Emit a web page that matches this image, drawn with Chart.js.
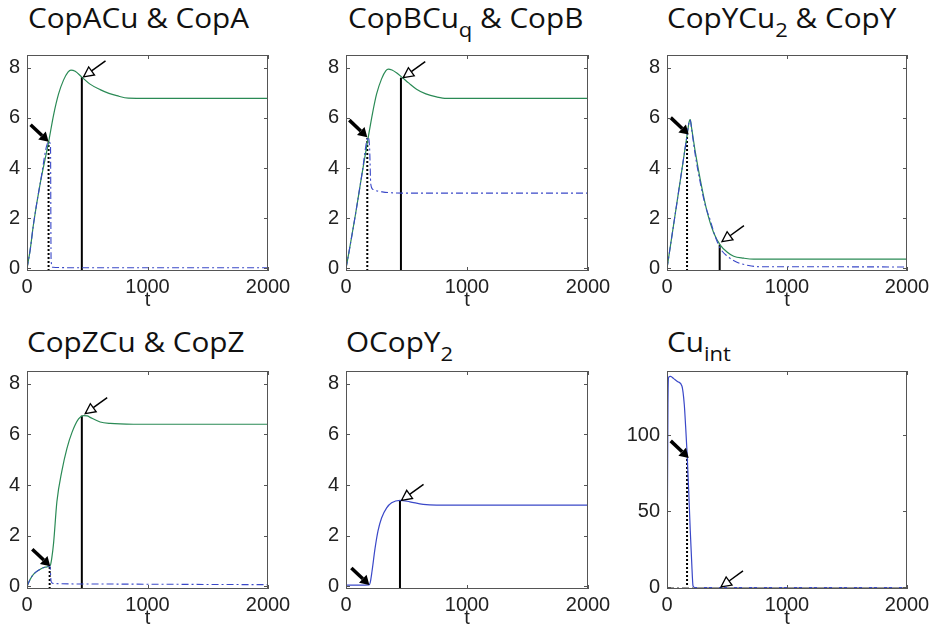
<!DOCTYPE html>
<html>
<head>
<meta charset="utf-8">
<script src="https://cdn.jsdelivr.net/npm/chart.js@4.4.1/dist/chart.umd.min.js"></script>
<style>
  html, body { margin: 0; padding: 0; background: #fff; }
  body { width: 933px; height: 632px; position: relative; overflow: hidden; }
  canvas { position: absolute; }
  .ttl {
    position: absolute; font-family: "Open Sans", sans-serif; font-size: 27px;
    line-height: 30px; color: #111; white-space: nowrap;
    transform: scaleX(1.1); transform-origin: left top;
  }
  .ttl .sb { font-size: 20px; position: relative; top: 9px; }
</style>
</head>
<body>
<div class="ttl" style="left:28px;top:3px">CopACu &amp; CopA</div>
<div class="ttl" style="left:348px;top:3px">CopBCu<span class="sb">q</span> &amp; CopB</div>
<div class="ttl" style="left:667px;top:3px">CopYCu<span class="sb">2</span> &amp; CopY</div>
<div class="ttl" style="left:27px;top:327px">CopZCu &amp; CopZ</div>
<div class="ttl" style="left:346px;top:327px">OCopY<span class="sb">2</span></div>
<div class="ttl" style="left:667px;top:327px">Cu<span class="sb">int</span></div>
<script>
// tick labels
const xTicks = [0, 1000, 2000];
const concTicks = [0, 2, 4, 6, 8];
const cuTicks = [0, 50, 100];

// CopACu & CopA
const copA_t1 = [0, 25, 55, 110, 180, 220, 262, 303, 340, 365, 400, 455, 520, 607, 680, 745, 841, 1000, 1500, 2000];
const copA_green = [0, 0.7, 1.8, 3.4, 5.05, 6.1, 6.95, 7.5, 7.82, 7.9, 7.85, 7.62, 7.35, 7.12, 6.97, 6.88, 6.78, 6.77, 6.77, 6.77];
const copA_t2 = [0, 25, 55, 110, 180, 195, 200, 215, 400, 2000];
const copA_blue = [0, 0.7, 1.8, 3.4, 5.05, 4.9, 0.3, 0.05, 0.03, 0.03];

// CopBCu_q & CopB
const copB_t1 = [0, 30, 80, 130, 184, 220, 253, 294, 330, 350, 380, 420, 459, 520, 583, 660, 748, 831, 1000, 2000];
const copB_green = [0, 0.8, 2.2, 3.7, 5.23, 6.2, 6.95, 7.55, 7.88, 7.94, 7.9, 7.78, 7.63, 7.38, 7.14, 6.95, 6.83, 6.77, 6.77, 6.77];
const copB_t2 = [0, 30, 80, 130, 184, 195, 205, 226, 300, 500, 2000];
const copB_blue = [0, 0.8, 2.2, 3.7, 5.23, 4.8, 3.35, 3.14, 3.05, 3.0, 3.0];

// CopYCu2 & CopY
const copY_t1 = [0, 60, 120, 167, 185, 194, 205, 236, 278, 333, 389, 444, 500, 556, 640, 722, 1000, 2000];
const copY_green = [0, 1.9, 3.8, 5.3, 5.85, 5.93, 5.6, 4.63, 3.52, 2.28, 1.42, 0.93, 0.66, 0.49, 0.41, 0.37, 0.37, 0.37];
const copY_t2 = [0, 60, 120, 167, 185, 194, 205, 236, 278, 320, 361, 400, 444, 500, 583, 680, 778, 1000, 2000];
const copY_blue = [0, 1.9, 3.8, 5.3, 5.85, 5.9, 5.55, 4.5, 3.4, 2.5, 1.91, 1.3, 0.8, 0.5, 0.25, 0.12, 0.07, 0.07, 0.06];

// CopZCu & CopZ
const copZ_t1 = [0, 25, 55, 110, 150, 193, 205, 221, 248, 290, 331, 372, 428, 469, 500, 524, 607, 690, 883, 2000];
const copZ_green = [0, 0.27, 0.49, 0.68, 0.76, 0.83, 1.1, 1.73, 3.34, 4.57, 5.44, 6.06, 6.61, 6.74, 6.73, 6.67, 6.49, 6.43, 6.40, 6.40];
const copZ_t2 = [0, 25, 55, 110, 150, 190, 200, 215, 400, 2000];
const copZ_blue = [0, 0.27, 0.49, 0.68, 0.76, 0.82, 0.2, 0.12, 0.1, 0.07];

// OCopY2
const ocopY_t = [0, 100, 190, 200, 215, 240, 265, 294, 336, 377, 446, 528, 638, 748, 1000, 2000];
const ocopY_blue = [0.05, 0.05, 0.06, 0.15, 0.6, 1.5, 2.2, 2.7, 3.1, 3.3, 3.4, 3.34, 3.24, 3.21, 3.21, 3.21];

// Cu_int
const cu_t = [0, 8, 14, 30, 56, 90, 125, 144, 155, 167, 180, 194, 205, 217, 230, 2000];
const cu_blue = [0, 120, 138, 138.5, 137, 135, 132, 120, 106, 88.7, 65, 37, 18, 1, 0, 0];
const cu_gray = [0, 0];
const cu_grayT = [0, 2000];

// vertical markers
const dottedT = [179, 176, 167, 188, null, 167];
const dottedY = [5.05, 5.2, 5.3, 0.8, null, 85];
const solidT = [455, 454, 439, 455, 446, 439];
const solidY = [7.62, 7.6, 0.95, 6.74, 3.4, 0.3];
// arrow tips
const filledTipT = [179, 176, 181, 193, 193, 181];
const filledTipY = [5.05, 5.23, 5.33, 0.8, 0.06, 85];
const openTipT = [469, 473, 458, 483, 459, 450];
const openTipY = [7.63, 7.6, 1.07, 6.82, 3.4, 0.4];

const GREEN = "#2a8a55";
const BLUE = "#3a48c8";
const FONT = "'Liberation Sans', Arial, sans-serif";

// plot frames [left, top, right, bottom]
const frames = [
  [27, 41, 268, 271], [346, 41, 588, 271], [667, 41, 907, 271],
  [27, 357, 268, 589], [346, 357, 588, 589], [667, 357, 907, 589]
];
const ML = 50, MR = 30, MT = 5, MB = 45;

const pts = (ts, ys) => ts.map((t, i) => ({ x: t, y: ys[i] }));

const solidLine = (ts, ys, color) => ({
  data: pts(ts, ys), borderColor: color, borderWidth: 1.2,
  pointRadius: 0, cubicInterpolationMode: "monotone", fill: false
});
const dashDot = (ts, ys, color) => ({
  data: pts(ts, ys), borderColor: color, borderWidth: 1.1, borderDash: [7, 3, 2, 3],
  pointRadius: 0, cubicInterpolationMode: "monotone", fill: false
});

const frameTicks = {
  id: "frameTicks",
  afterDraw(chart) {
    const { ctx, chartArea: a, scales: { x, y } } = chart;
    ctx.save();
    ctx.strokeStyle = "#555";
    ctx.lineWidth = 1;
    ctx.strokeRect(a.left + 0.5, a.top + 0.5, a.right - a.left - 1, a.bottom - a.top - 1);
    ctx.beginPath();
    x.ticks.forEach(tk => {
      const px = Math.round(x.getPixelForValue(tk.value)) + 0.5;
      ctx.moveTo(px, a.bottom); ctx.lineTo(px, a.bottom - 4);
      ctx.moveTo(px, a.top); ctx.lineTo(px, a.top + 4);
    });
    y.ticks.forEach(tk => {
      const py = Math.round(y.getPixelForValue(tk.value)) + 0.5;
      ctx.moveTo(a.left, py); ctx.lineTo(a.left + 4, py);
      ctx.moveTo(a.right, py); ctx.lineTo(a.right - 4, py);
    });
    ctx.stroke();
    ctx.restore();
  }
};

function drawArrow(ctx, tx, ty, fx, fy, filled) {
  const ang = Math.atan2(ty - fy, tx - fx);
  const L = filled ? 9 : 10, W = filled ? 5.5 : 5;
  const bx = tx - L * Math.cos(ang), by = ty - L * Math.sin(ang);
  ctx.beginPath();
  ctx.moveTo(fx, fy); ctx.lineTo(bx, by);
  ctx.lineWidth = filled ? 3.5 : 1.5;
  ctx.strokeStyle = "#000";
  ctx.stroke();
  ctx.beginPath();
  ctx.moveTo(tx, ty);
  ctx.lineTo(bx + W * Math.sin(ang), by - W * Math.cos(ang));
  ctx.lineTo(bx - W * Math.sin(ang), by + W * Math.cos(ang));
  ctx.closePath();
  if (filled) { ctx.fillStyle = "#000"; ctx.fill(); }
  else { ctx.fillStyle = "#fff"; ctx.fill(); ctx.lineWidth = 1.3; ctx.stroke(); }
}

const arrows = {
  id: "arrows",
  afterDatasetsDraw(chart, args, opts) {
    const { ctx, scales: { x, y } } = chart;
    ctx.save();
    const fx = x.getPixelForValue(opts.filled[0]), fy = y.getPixelForValue(opts.filled[1]);
    drawArrow(ctx, fx, fy, fx - 18, fy - 17, true);
    const ox = x.getPixelForValue(opts.open[0]), oy = y.getPixelForValue(opts.open[1]);
    drawArrow(ctx, ox, oy, ox + 22, oy - 16, false);
    ctx.restore();
  }
};

const panels = [
  { sets: [dashDot(copA_t2, copA_blue, BLUE), solidLine(copA_t1, copA_green, GREEN)], yMin: -0.1, yMax: 8.5, yTicks: concTicks },
  { sets: [dashDot(copB_t2, copB_blue, BLUE), solidLine(copB_t1, copB_green, GREEN)], yMin: -0.1, yMax: 8.5, yTicks: concTicks },
  { sets: [dashDot(copY_t2, copY_blue, BLUE), solidLine(copY_t1, copY_green, GREEN)], yMin: -0.1, yMax: 8.5, yTicks: concTicks },
  { sets: [dashDot(copZ_t2, copZ_blue, BLUE), solidLine(copZ_t1, copZ_green, GREEN)], yMin: -0.1, yMax: 8.5, yTicks: concTicks },
  { sets: [solidLine(ocopY_t, ocopY_blue, BLUE)], yMin: -0.1, yMax: 8.5, yTicks: concTicks },
  { sets: [dashDot(cu_grayT, cu_gray, "#999"), solidLine(cu_t, cu_blue, BLUE)], yMin: -1, yMax: 142, yTicks: cuTicks }
];

panels.forEach((p, i) => {
  const [l, t, r, b] = frames[i];
  const cv = document.createElement("canvas");
  const w = (r - l) + ML + MR, h = (b - t) + MT + MB;
  cv.width = w; cv.height = h;
  cv.style.left = (l - ML) + "px";
  cv.style.top = (t - MT) + "px";
  cv.style.width = w + "px"; cv.style.height = h + "px";
  document.body.appendChild(cv);

  const sets = p.sets.slice();
  if (dottedT[i] != null) {
    sets.push({ data: [{ x: dottedT[i], y: p.yMin }, { x: dottedT[i], y: dottedY[i] }],
      borderColor: "#000", borderWidth: 2, borderDash: [2, 2], pointRadius: 0 });
  }
  sets.push({ data: [{ x: solidT[i], y: p.yMin }, { x: solidT[i], y: solidY[i] }],
    borderColor: "#000", borderWidth: 2, pointRadius: 0 });

  new Chart(cv, {
    type: "line",
    data: { datasets: sets },
    options: {
      responsive: false,
      animation: false,
      devicePixelRatio: 1,
      layout: { padding: { left: 0, right: MR, top: MT, bottom: 0 } },
      plugins: {
        legend: { display: false },
        tooltip: { enabled: false },
        arrows: { filled: [filledTipT[i], filledTipY[i]], open: [openTipT[i], openTipY[i]] }
      },
      scales: {
        x: {
          type: "linear", min: 0, max: 2000,
          afterBuildTicks: s => { s.ticks = xTicks.map(v => ({ value: v })); },
          afterFit: s => { s.height = MB; },
          grid: { display: false, drawTicks: false },
          border: { display: false },
          ticks: { padding: 4, color: "#222", maxRotation: 0, autoSkip: false,
            callback: v => String(v), font: { family: FONT, size: 20 } },
          title: { display: true, text: "t", color: "#222", padding: { top: 0, bottom: 4 },
            font: { family: FONT, size: 20 } }
        },
        y: {
          type: "linear", min: p.yMin, max: p.yMax,
          afterBuildTicks: s => { s.ticks = p.yTicks.map(v => ({ value: v })); },
          afterFit: s => { s.width = ML; },
          grid: { display: false, drawTicks: false },
          border: { display: false },
          ticks: { padding: 7, color: "#222", autoSkip: false,
            callback: v => String(v), font: { family: FONT, size: 20 } }
        }
      }
    },
    plugins: [frameTicks, arrows]
  });
});
</script>
</body>
</html>
